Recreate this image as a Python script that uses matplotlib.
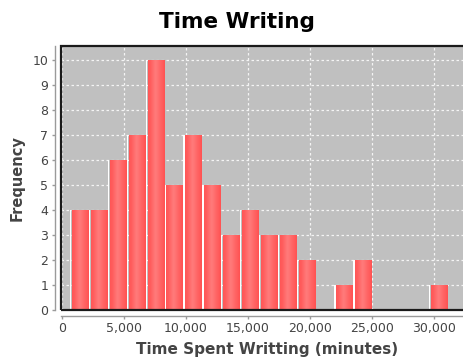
import numpy as np
import matplotlib
matplotlib.use("Agg")
import matplotlib.pyplot as plt
from matplotlib.patches import Rectangle

# ---- data ----
bin_start = 645          # minutes, left edge of first bin
bin_width = 1523         # minutes
counts = [4, 4, 6, 7, 10, 5, 7, 5, 3, 4, 3, 3, 2, 0, 1, 2, 0, 0, 0, 1]
x_ticks = [0, 5000, 10000, 15000, 20000, 25000, 30000]
x_tick_labels = ["0", "5,000", "10,000", "15,000", "20,000", "25,000", "30,000"]
y_ticks = list(range(0, 11))

title = "Time Writing"
x_label = "Time Spent Writting (minutes)"
y_label = "Frequency"

# ---- figure ----
W, H, DPI = 464, 364, 100
fig = plt.figure(figsize=(W / DPI, H / DPI), dpi=DPI)
fig.patch.set_facecolor("white")
ax = fig.add_axes([61 / W, 54 / H, 412 / W, 264 / H])
ax.set_facecolor("#C0C0C0")

px = 5000 / 62.0  # data units per pixel on x
edges = bin_start + bin_width * np.arange(len(counts))

# white highlight stripe at the left of each bar
ax.bar(edges, counts, width=1.4 * px, align="edge", color="white",
       linewidth=0, zorder=2)
# red bars
bars = ax.bar(edges + 2.0 * px, counts, width=bin_width - 2.5 * px,
              align="edge", color="#FF5A5A", linewidth=0, zorder=3)

# horizontal gradient like JFreeChart GradientBarPainter
stops = [(0.0, (255, 86, 86)), (0.15, (255, 94, 94)), (0.45, (255, 124, 124)),
         (0.75, (255, 100, 100)), (1.0, (255, 82, 82))]
n = 64
t = np.linspace(0, 1, n)
grad = np.zeros((1, n, 3))
for c in range(3):
    grad[0, :, c] = np.interp(t, [s[0] for s in stops], [s[1][c] / 255 for s in stops])
for b in bars:
    h = b.get_height()
    if h <= 0:
        continue
    x0 = b.get_x()
    im = ax.imshow(grad, extent=[x0, x0 + b.get_width(), 0, h], aspect="auto",
                   interpolation="bilinear", zorder=3.5)
    im.set_clip_path(b)

ax.set_xlim(-1 * px, 411 * px)
ax.set_ylim(0, 10.56)

# grid
ax.set_axisbelow(True)
ax.grid(True, color="#f4f4f4", linestyle=(0, (2, 2)), linewidth=0.9, zorder=1)

ax.set_xticks(x_ticks)
ax.set_xticklabels(x_tick_labels)
ax.set_yticks(y_ticks)

# axis lines offset like JFreeChart
for side in ["top", "right"]:
    ax.spines[side].set_visible(False)
ax.spines["left"].set_position(("outward", 4.6))
ax.spines["bottom"].set_position(("outward", 4.0))
for side in ["left", "bottom"]:
    ax.spines[side].set_color("#9a9a9a")
    ax.spines[side].set_linewidth(1.0)
ax.tick_params(axis="both", direction="out", length=2.5, width=1.0,
               color="#9a9a9a", labelcolor="#444444", labelsize=9, pad=2)

# plot outline (right side falls outside the canvas, as in the reference)
ax.add_patch(Rectangle((0, 0), 1, 1, transform=ax.transAxes, fill=False,
                       edgecolor="#1a1a1a", linewidth=1.6, clip_on=False, zorder=10))

ax.set_xlabel(x_label, fontsize=11, fontweight="bold", color="#444444", labelpad=5)
ax.set_ylabel(y_label, fontsize=10.5, fontweight="bold", color="#444444", labelpad=6)

fig.text(237 / W, 1 - 22 / H, title, ha="center", va="center",
         fontsize=15.5, fontweight="bold", color="black")

fig.savefig("out.png", dpi=DPI)
